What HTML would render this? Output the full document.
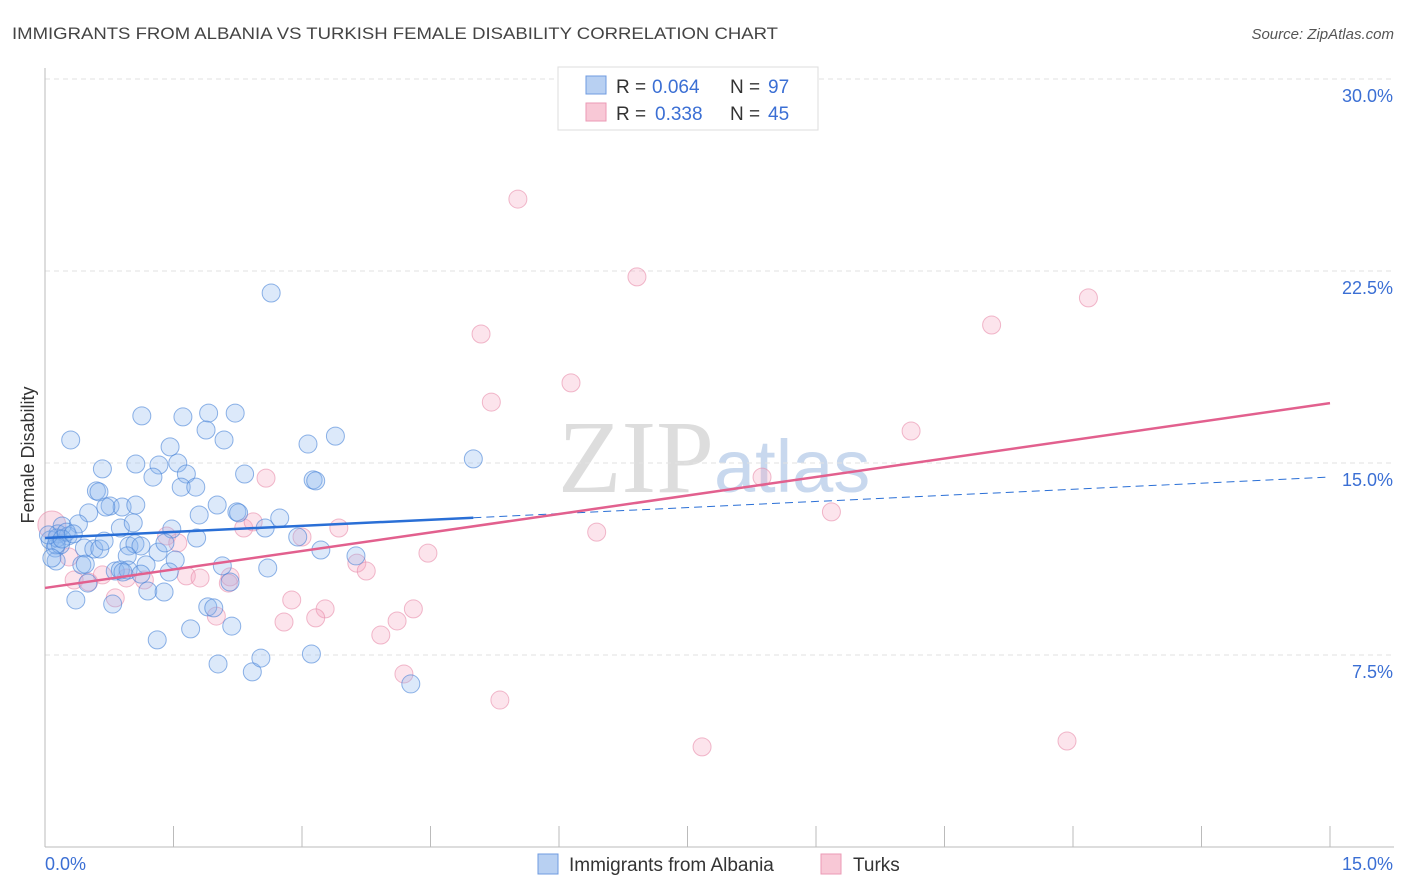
<!DOCTYPE html>
<html><head><meta charset="utf-8"><style>
body{margin:0;background:#fff;font-family:"Liberation Sans",sans-serif}
svg{display:block}
</style></head><body>
<svg id="c" width="1406" height="892">
<text x="12" y="39" font-size="17" fill="#444" textLength="766" lengthAdjust="spacingAndGlyphs">IMMIGRANTS FROM ALBANIA VS TURKISH FEMALE DISABILITY CORRELATION CHART</text>
<text x="1394" y="39" font-size="15" fill="#555" font-style="italic" text-anchor="end">Source: ZipAtlas.com</text>
<text x="714" y="492" font-size="104" fill="#ddd" text-anchor="end" font-family="Liberation Serif,serif">ZIP</text>
<text x="714" y="492" font-size="74" fill="#c8d8ee">atlas</text>
<g id="grid"></g><g id="marks"></g>
<text x="34" y="455" font-size="18" fill="#333" text-anchor="middle" transform="rotate(-90 34 455)">Female Disability</text>
<g>
<rect x="558" y="67" width="260" height="63" fill="#fff" stroke="#ddd"/>
<rect x="586" y="76" width="20" height="18" fill="#b8d0f2" stroke="#6f9be0"/>
<text x="616" y="93" font-size="19" fill="#333">R =</text>
<text x="652" y="93" font-size="19" fill="#3b6fd4">0.064</text>
<text x="730" y="93" font-size="19" fill="#333">N =</text>
<text x="768" y="93" font-size="19" fill="#3b6fd4">97</text>
<rect x="586" y="103" width="20" height="18" fill="#f8c8d6" stroke="#eb9ab5"/>
<text x="616" y="120" font-size="19" fill="#333">R =</text>
<text x="655" y="120" font-size="19" fill="#3b6fd4">0.338</text>
<text x="730" y="120" font-size="19" fill="#333">N =</text>
<text x="768" y="120" font-size="19" fill="#3b6fd4">45</text>
</g>
<g>
<rect x="538" y="854" width="20" height="20" fill="#b8d0f2" stroke="#6f9be0"/>
<text x="569" y="871" font-size="19" fill="#333">Immigrants from Albania</text>
<rect x="821" y="854" width="20" height="20" fill="#f8c8d6" stroke="#eb9ab5"/>
<text x="853" y="871" font-size="19" fill="#333">Turks</text>
</g>
</svg>
<script>
const yTicks=[7.5,15,22.5,30];
const xTickLabels=["0.0%","15.0%"];
const blueX=[2.64,1.13,1.61,1.91,2.22,1.88,2.09,0.30,1.46,3.07,3.39,0.67,1.06,1.33,1.55,1.26,1.65,1.59,1.76,2.33,3.13,3.16,5.00,0.60,0.63,0.76,0.90,1.06,0.71,0.51,2.01,2.24,2.26,1.80,2.74,0.39,0.20,0.88,1.03,1.48,2.57,0.15,0.27,0.06,0.12,0.14,0.18,0.25,0.46,0.57,0.64,0.69,0.98,1.05,1.12,1.32,1.40,1.77,2.95,3.22,3.63,0.13,0.43,0.47,0.96,1.52,1.18,0.82,0.88,0.97,0.91,1.12,1.45,2.07,2.60,2.16,0.50,0.36,0.79,1.20,1.39,1.90,1.97,1.70,2.18,1.31,2.02,2.42,2.52,3.11,4.27,0.13,0.04,0.08,0.20,0.33];
const blueY=[21.64,16.84,16.80,16.95,16.95,16.29,15.90,15.90,15.63,15.74,16.05,14.77,14.96,14.92,15.0,14.45,14.57,14.06,14.06,14.57,14.34,14.30,15.16,13.91,13.87,13.32,13.28,13.36,13.28,13.05,13.36,13.09,13.05,12.97,12.85,12.62,12.54,12.46,12.66,12.42,12.46,12.23,12.15,11.99,11.68,12.07,11.80,12.30,11.68,11.64,11.64,11.95,11.76,11.84,11.76,11.52,11.88,12.07,12.11,11.60,11.37,11.17,11.02,11.05,11.37,11.21,11.02,10.78,10.82,10.82,10.74,10.66,10.74,10.98,10.90,10.35,10.31,9.65,9.49,10.0,9.96,9.38,9.34,8.52,8.63,8.09,7.15,6.84,7.38,7.54,6.37,11.80,12.19,11.29,12.03,12.23];
const pinkX=[5.52,6.91,12.18,11.05,5.09,6.14,5.21,10.11,2.58,8.37,9.18,6.44,2.32,2.43,3.43,3.0,1.42,1.55,4.47,3.64,3.75,0.28,0.34,0.51,0.67,0.95,1.16,1.65,1.81,2.16,2.14,0.82,2.0,2.88,3.27,3.16,2.79,4.11,4.30,3.92,4.19,5.31,7.67,11.93];
const pinkY=[25.31,22.27,21.45,20.39,20.04,18.13,17.38,16.25,14.41,14.45,13.09,12.30,12.46,12.70,12.46,12.11,12.15,11.88,11.48,11.09,10.78,11.33,10.43,10.35,10.63,10.51,10.43,10.59,10.51,10.55,10.31,9.73,9.02,9.65,9.30,8.95,8.79,8.83,9.30,8.28,6.76,5.74,3.91,4.14];
const bigPink=[0.08,12.58];
const blueTrend=[12.07,14.45];
const pinkTrend=[10.12,17.34];
const sx=v=>45+v/15*1285, sy=v=>847-v*25.6;
const NS="http://www.w3.org/2000/svg";
function mk(t,a,p){const e=document.createElementNS(NS,t);for(const k in a)e.setAttribute(k,a[k]);p.appendChild(e);return e;}
const g=document.getElementById('grid'), m=document.getElementById('marks');
yTicks.forEach(t=>{
 const l=mk('line',{x1:45,x2:1394,y1:sy(t),y2:sy(t),stroke:'#e2e2e2','stroke-dasharray':'5,4'},g);
 
 
 const tx=mk('text',{x:1393,y:sy(t)+23,'font-size':18,fill:'#3b6fd4','text-anchor':'end'},g);
 tx.textContent=t.toFixed(1)+'%';
 
 
});
const ax=mk('line',{x1:45,x2:45,y1:68,y2:847,stroke:'#bbb'},g);


const bx=mk('line',{x1:45,x2:1394,y1:847,y2:847,stroke:'#bbb'},g);


for(let i=0;i<=10;i++){const tk=mk('line',{x1:sx(i*1.5),x2:sx(i*1.5),y1:826,y2:847,stroke:'#bbb'},g);
 
 }
const xl0=mk('text',{x:45,y:870,'font-size':18,fill:'#3b6fd4'},g);xl0.textContent=xTickLabels[0];


const xl1=mk('text',{x:1393,y:870,'font-size':18,fill:'#3b6fd4','text-anchor':'end'},g);xl1.textContent=xTickLabels[1];


const bp=mk('circle',{cx:sx(bigPink[0]),cy:sy(bigPink[1]),r:14,fill:'rgba(240,150,180,0.3)',stroke:'rgba(232,140,170,0.6)'},m);


pinkX.forEach((x,i)=>{const c=mk('circle',{cx:sx(x),cy:sy(pinkY[i]),r:9,fill:'rgba(244,165,192,0.3)',stroke:'rgba(232,140,170,0.6)','stroke-width':1},m);
 
 });
blueX.forEach((x,i)=>{const c=mk('circle',{cx:sx(x),cy:sy(blueY[i]),r:9,fill:'rgba(140,182,238,0.3)',stroke:'rgba(70,130,215,0.6)','stroke-width':1},m);
 
 });
const bt=(x)=>blueTrend[0]+(blueTrend[1]-blueTrend[0])*x/15;
const l1=mk('line',{x1:sx(0),y1:sy(bt(0)),x2:sx(5.0),y2:sy(bt(5.0)),stroke:'#2a6fd6','stroke-width':2.5},m);


const l2=mk('line',{x1:sx(5.0),y1:sy(bt(5.0)),x2:sx(15),y2:sy(bt(15)),stroke:'#2a6fd6','stroke-width':1,'stroke-dasharray':'8,5'},m);


const l3=mk('line',{x1:sx(0),y1:sy(pinkTrend[0]),x2:sx(15),y2:sy(pinkTrend[1]),stroke:'#e2608e','stroke-width':2.5},m);


</script>
</body></html>
